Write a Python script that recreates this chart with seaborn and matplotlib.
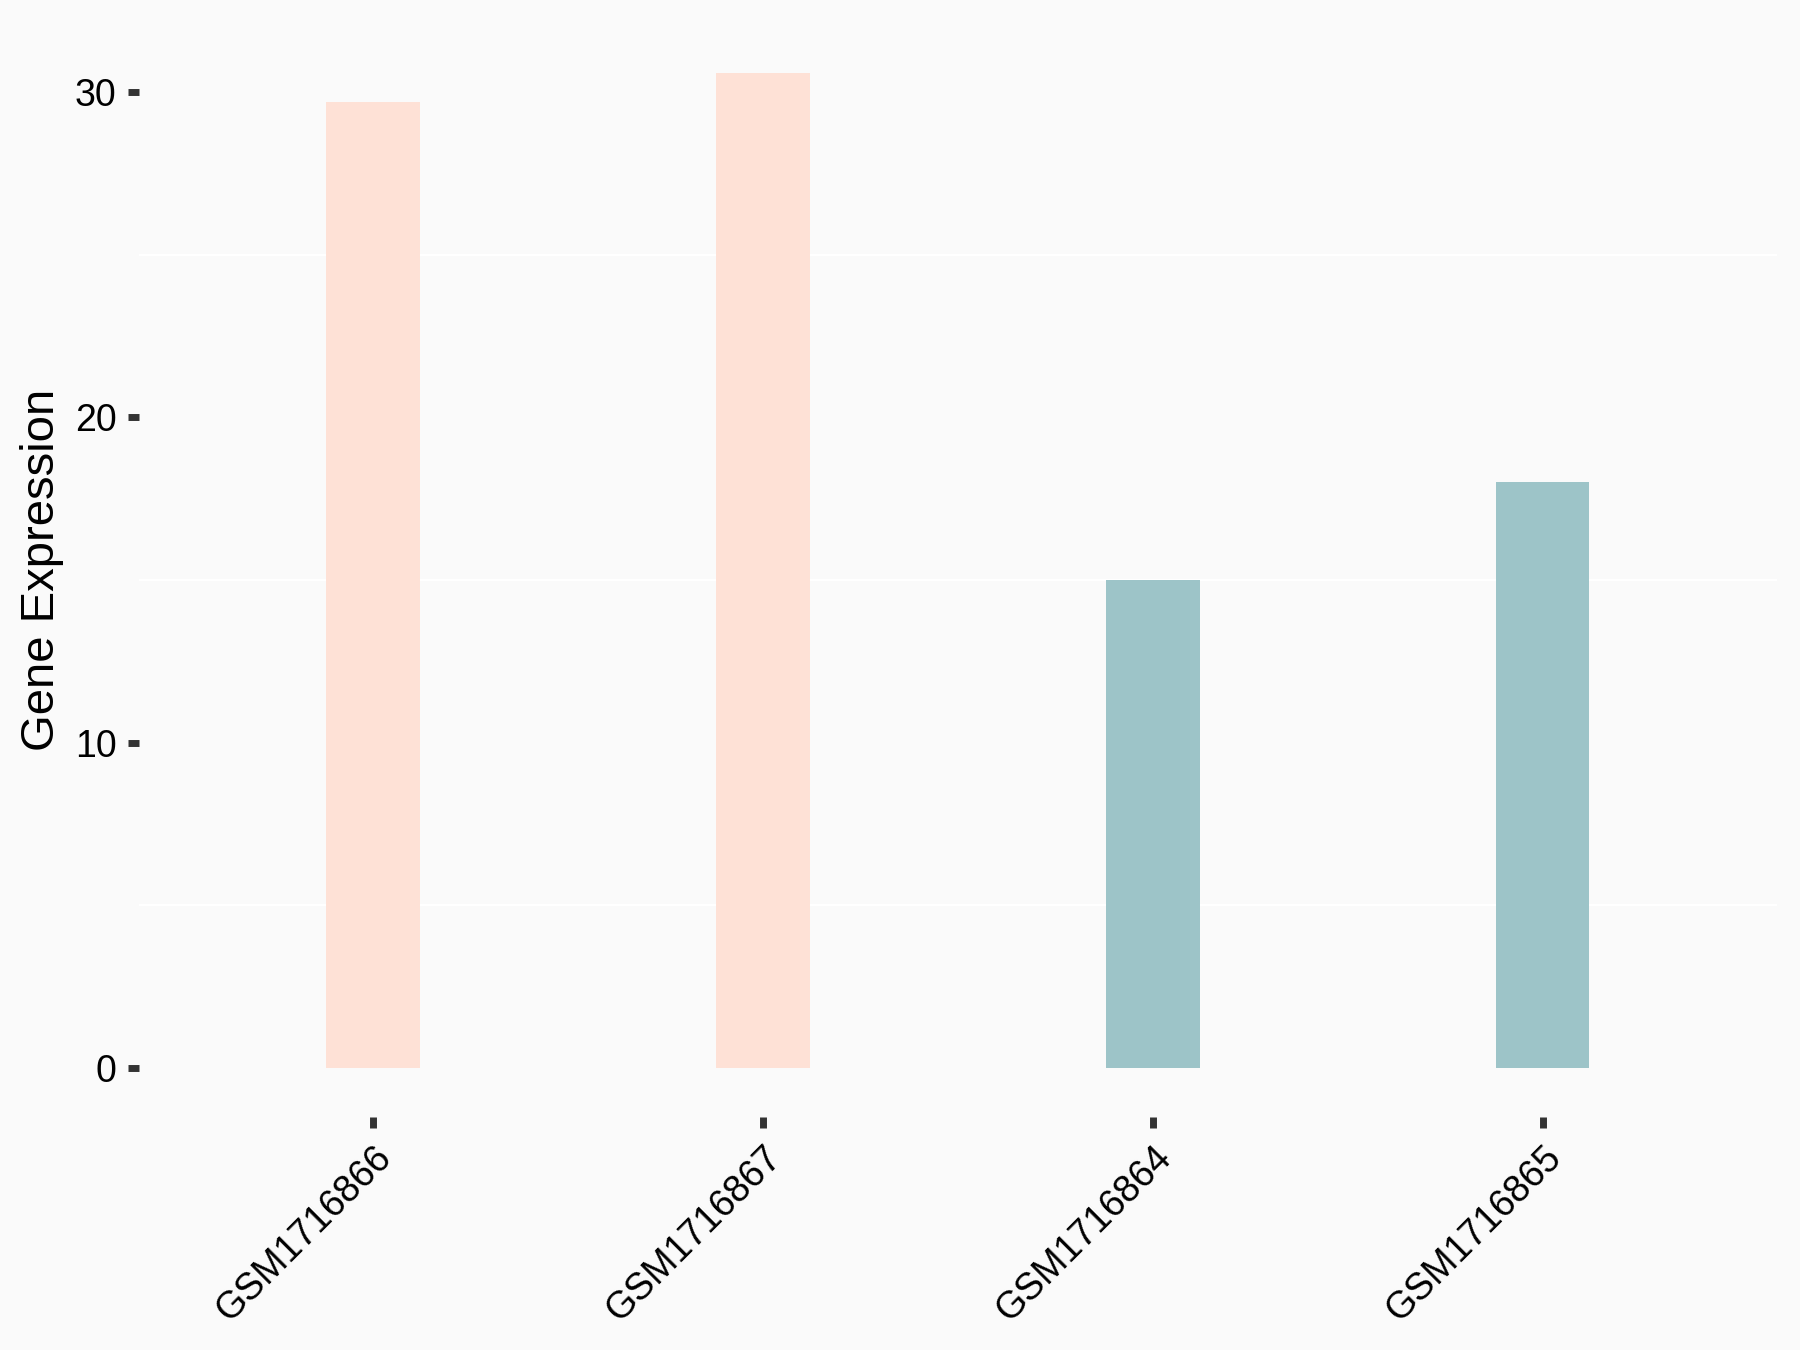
import pandas as pd
import matplotlib

matplotlib.use("Agg")
import matplotlib.pyplot as plt
import seaborn as sns
from matplotlib.ticker import MultipleLocator

# ===================== 数据 =====================
samples = ["GSM1716866", "GSM1716867", "GSM1716864", "GSM1716865"]
expression = [29.7, 30.6, 15.0, 18.0]
groups = ["A", "A", "B", "B"]
group_colors = {"A": "#FEE1D6", "B": "#9DC4C8"}

df = pd.DataFrame({"sample": samples, "expr": expression, "group": groups})

sns.set_theme(style="white")
plt.rcParams['font.family'] = ['Liberation Sans', 'DejaVu Sans']

fig = plt.figure(figsize=(9, 6.75), dpi=200, facecolor="#FAFAFA")
ax = fig.add_axes([0.0772, 0.1726, 0.9098, 0.8104])
ax.set_facecolor("#FAFAFA")

sns.barplot(data=df, x="sample", y="expr", hue="group", palette=group_colors,
            order=samples, dodge=False, width=0.24, legend=False,
            saturation=1, linewidth=0, ax=ax)

ax.set_xlim(-0.6, 3.6)
ax.set_ylim(-1.51, 32.13)
ax.yaxis.set_major_locator(MultipleLocator(10))
ax.grid(False)
# 只画次网格线（白色）
for v in [5, 15, 25]:
    ax.axhline(v, color="white", lw=0.75, zorder=0)

for s in ax.spines.values():
    s.set_visible(False)

ax.tick_params(axis="both", which="major", length=4, width=2.5, color="#333333",
               labelsize=13.5, labelcolor="black", pad=4, bottom=True, left=True)
plt.setp(ax.get_xticklabels(), rotation=45, ha="right", va="top",
         rotation_mode="anchor")

ax.set_xlabel("")
ax.set_ylabel("Gene Expression", fontsize=17, labelpad=4, color="black")

fig.savefig("out.png", dpi=200, facecolor=fig.get_facecolor())
plt.close()
